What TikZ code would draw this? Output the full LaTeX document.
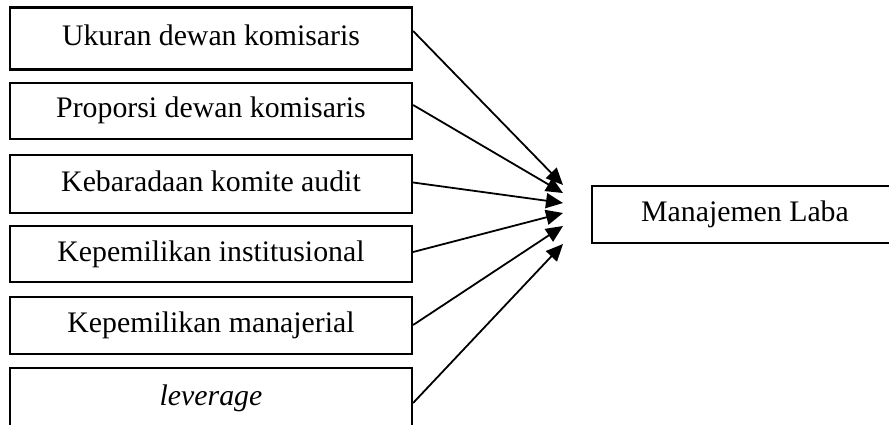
\documentclass[tikz,border=0pt]{standalone}
\usepackage{fontspec}
\setmainfont{Liberation Serif}
\usetikzlibrary{arrows.meta,calc}
\begin{document}
\begin{tikzpicture}[x=1pt,y=-1pt,
  varbox/.style={draw, line width=2.2pt, minimum width=402pt, inner sep=0pt,
    text height=20pt, text depth=6pt, font=\fontsize{29.8}{36}\selectfont},
  conn/.style={line width=1.8pt, -{Triangle[length=17pt,width=15pt]}}]
\useasboundingbox (0,0) rectangle (889,425);
\clip (0,0) rectangle (889,425);
\node[varbox, minimum height=62pt] (b1) at (211,38.5) {Ukuran dewan komisaris};
\node[varbox, minimum height=56pt] (b2) at (211,111) {Proporsi dewan komisaris};
\node[varbox, minimum height=58pt] (b3) at (211,184) {Kebaradaan komite audit};
\node[varbox, minimum height=56pt] (b4) at (211,254) {Kepemilikan institusional};
\node[varbox, minimum height=57pt] (b5) at (211,325.5) {Kepemilikan manajerial};
\node[varbox, minimum height=60pt] (b6) at (211,398) {\itshape leverage};
\node[varbox, minimum width=360pt, minimum height=57pt] (y) at (772,214.5) {\makebox[306pt]{Manajemen Laba}\hspace*{54pt}};
\coordinate (t1) at (563,185);
\coordinate (t2) at (563,193);
\coordinate (t3) at (563,203);
\coordinate (t4) at (563,213);
\coordinate (t5) at (563,226);
\coordinate (t6) at (563,244);
\draw[conn] ([yshift=7.5pt]b1.east) -- (t1);
\draw[conn] ([yshift=6pt]b2.east) -- (t2);
\draw[conn] ([yshift=1.5pt]b3.east) -- (t3);
\draw[conn] ([yshift=2pt]b4.east) -- (t4);
\draw[conn] ([yshift=0.5pt]b5.east) -- (t5);
\draw[conn] ([yshift=-5pt]b6.east) -- (t6);
\end{tikzpicture}
\end{document}
